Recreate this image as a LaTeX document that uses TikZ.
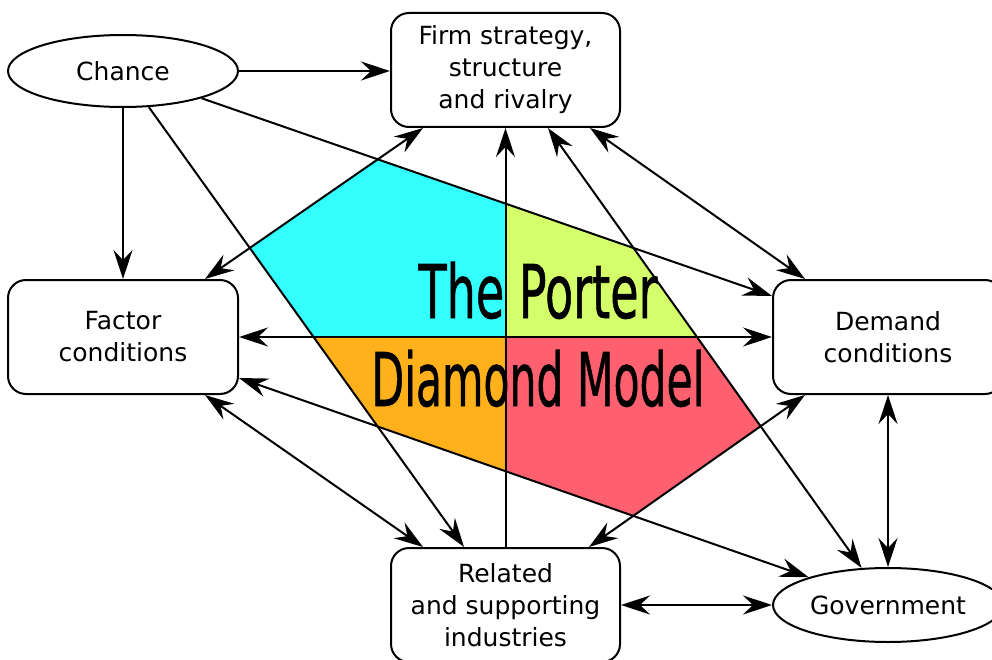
\documentclass[tikz,border=0pt]{standalone}
\usepackage{fontspec}
\setmainfont{DejaVu Sans}
\newfontfamily\titlefamily[FakeBold=1]{DejaVu Sans}
\usetikzlibrary{shapes.geometric,arrows.meta,intersections,backgrounds,calc}
\definecolor{cyanfill}{HTML}{33FFFF}
\definecolor{limefill}{HTML}{D5FF6A}
\definecolor{orangefill}{HTML}{FFB11B}
\definecolor{redfill}{HTML}{FF6070}
\begin{document}
\begin{tikzpicture}[x=1pt,y=-1pt, line width=2pt,
  >={Stealth[length=29pt,width=19pt,inset=10pt]},
  lbl/.style={font=\fontsize{25pt}{32pt}\selectfont, align=center},
  oval/.style={lbl, draw, ellipse, minimum width=230pt, minimum height=72pt, inner sep=0pt},
  box/.style={lbl, draw, rounded corners=18pt, minimum width=229pt, minimum height=114pt, inner sep=0pt},
  titlefont/.style={anchor=base, font=\titlefamily\fontsize{74pt}{88pt}\selectfont, inner sep=0pt}]
\useasboundingbox (0,0) rectangle (992,660);

\node[oval] (chance) at (123,71) {Chance};
\node[box] (firm) at (505.5,70) {Firm strategy,\\structure\\and rivalry};
\node[box, minimum width=230pt] (factor) at (123,337) {Factor\\conditions};
\node[box, minimum width=230pt] (demand) at (888,337) {Demand\\conditions};
\node[box] (rel) at (505.5,605) {Related\\and supporting\\industries};
\node[oval, minimum height=74pt] (gov) at (888,605) {Government};

\draw[->] (chance.east) -- (chance.east -| firm.west);
\draw[->] (chance.south) -- (factor.north);
\draw[->, name path=L3] (chance) -- ([xshift=-41.5pt]rel.north);
\draw[->, name path=L2] (chance) -- ([yshift=-17pt]demand.north west);
\draw[<->, name path=L1] ([xshift=-82.5pt]firm.south) -- ([xshift=82pt]factor.north);
\draw[<->] ([xshift=84.5pt]firm.south) -- ([xshift=-83pt]demand.north);
\draw[<->, name path=L4] ([xshift=42.5pt]firm.south) -- (gov);
\draw[->, name path=V] (rel.north) -- (firm.south);
\draw[<->, name path=H] (factor.east) -- (demand.west);
\draw[<->] ([xshift=82pt]factor.south) -- ([xshift=-82.5pt]rel.north);
\draw[<->, name path=L7] ([yshift=-41pt]factor.east) -- (gov);
\draw[<->, name path=L8] ([xshift=-83pt]demand.south) -- ([xshift=83.5pt]rel.north);
\draw[<->] (demand.south) -- (gov.north);
\draw[<->] (rel.east) -- (gov.west);

\path[name intersections={of=L1 and L2, by=c1}];
\path[name intersections={of=L1 and L3, by=c2}];
\path[name intersections={of=L3 and H, by=c3}];
\path[name intersections={of=V and H, by=o}];
\path[name intersections={of=L2 and V, by=c5}];
\path[name intersections={of=L2 and L4, by=y2}];
\path[name intersections={of=L4 and H, by=y3}];
\path[name intersections={of=L4 and L8, by=r3}];
\path[name intersections={of=L7 and L8, by=r4}];
\path[name intersections={of=L7 and V, by=r5}];
\path[name intersections={of=L3 and L7, by=o4}];

\begin{scope}[on background layer]
  \fill[white] (0,0) rectangle (992,660);
  \fill[cyanfill] (c1) -- (c2) -- (c3) -- (o) -- (c5) -- cycle;
  \fill[limefill] (c5) -- (y2) -- (y3) -- (o) -- cycle;
  \fill[orangefill] (c3) -- (o) -- (r5) -- (o4) -- cycle;
  \fill[redfill] (o) -- (y3) -- (r3) -- (r4) -- (r5) -- cycle;
\end{scope}

\node[titlefont] (title1) at (538,318) {\resizebox{239pt}{\height}{The Porter}};
\node[titlefont] (title2) at (538,406) {\resizebox{333pt}{\height}{Diamond Model}};
\end{tikzpicture}
\end{document}
